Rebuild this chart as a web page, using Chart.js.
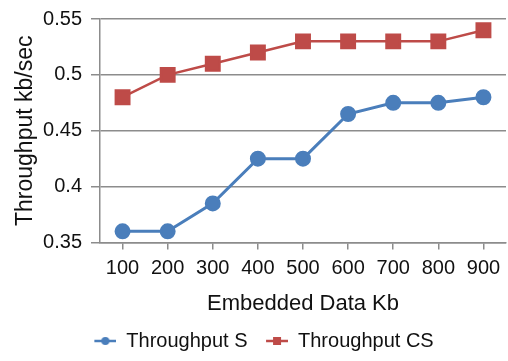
<!DOCTYPE html>
<html>
<head>
<meta charset="utf-8">
<script src="https://cdn.jsdelivr.net/npm/chart.js@4/dist/chart.umd.min.js"></script>
<style>
  html, body { margin: 0; padding: 0; background: #fff; overflow: hidden; }
  #wrap { width: 518px; height: 361px; }
</style>
</head>
<body>
<div id="wrap"><canvas id="throughputChart" width="518" height="361"></canvas></div>
<script>
const embeddedKb = ['100', '200', '300', '400', '500', '600', '700', '800', '900'];
const throughputS = [0.36, 0.36, 0.385, 0.425, 0.425, 0.465, 0.475, 0.475, 0.48];
const throughputCS = [0.48, 0.50, 0.51, 0.52, 0.53, 0.53, 0.53, 0.53, 0.54];
const yTicks = [0.35, 0.4, 0.45, 0.5, 0.55];

const blue = '#4A7EBB';
const red = '#BE4B48';
const gray = '#8C8C8C';
const font = "'Liberation Sans', Arial, sans-serif";

// little line + marker swatch for the legend (blank room on the left = gap between items)
function legendSwatch(color, shape) {
    const c = document.createElement('canvas');
    c.width = 34;
    c.height = 10;
    const ctx = c.getContext('2d');
    ctx.strokeStyle = color;
    ctx.lineWidth = 2.5;
    ctx.beginPath();
    ctx.moveTo(12, 5);
    ctx.lineTo(34, 5);
    ctx.stroke();
    ctx.fillStyle = color;
    if (shape === 'circle') {
        ctx.beginPath();
        ctx.arc(23, 5, 4, 0, Math.PI * 2);
        ctx.fill();
    } else {
        ctx.fillRect(19, 1, 8, 8);
    }
    return c;
}

const legendShift = {
    id: 'legendShift',
    afterLayout(chart) {
        chart.legend.left -= 1;
        chart.legend.right -= 1;
    },
};

const chartElem = document.getElementById('throughputChart').getContext('2d');

const chartData = {
    labels: embeddedKb,
    datasets: [{
        label: 'Throughput S',
        data: throughputS,
        borderColor: blue,
        backgroundColor: blue,
        borderWidth: 3,
        pointStyle: 'circle',
        pointRadius: 6.5,
        pointBackgroundColor: blue,
        pointBorderColor: blue,
        tension: 0,
    }, {
        label: 'Throughput CS',
        data: throughputCS,
        borderColor: red,
        backgroundColor: red,
        borderWidth: 2.5,
        pointStyle: 'rect',
        pointRadius: 9.5,
        pointBackgroundColor: red,
        pointBorderColor: red,
        tension: 0,
    }],
};

const chartConfig = {
    type: 'line',
    data: chartData,
    plugins: [legendShift],
    options: {
        responsive: false,
        animation: false,
        layout: { padding: { top: 2, right: 0, left: 0, bottom: 0 } },
        scales: {
            x: {
                offset: true,
                grid: {
                    drawOnChartArea: false,
                    color: gray,
                    lineWidth: 1.5,
                    tickLength: 7,
                },
                border: { color: gray, width: 1.5 },
                ticks: {
                    color: '#111',
                    font: { family: font, size: 20 },
                    padding: 7,
                    maxRotation: 0,
                },
                title: {
                    display: true,
                    text: 'Embedded Data Kb',
                    color: '#111',
                    font: { family: font, size: 22 },
                    padding: { top: 6, bottom: 7 },
                },
                afterFit: (scale) => { scale.height = 82; },
            },
            y: {
                min: 0.35,
                max: 0.55,
                afterBuildTicks: (scale) => { scale.ticks = yTicks.map(v => ({ value: v })); },
                grid: {
                    color: gray,
                    lineWidth: 1.5,
                    tickLength: 9,
                },
                border: { color: gray, width: 1.5 },
                ticks: {
                    color: '#111',
                    font: { family: font, size: 20, lineHeight: 1.0 },
                    padding: 9,
                    callback: (v) => String(Number(v.toFixed(2))),
                },
                title: {
                    display: true,
                    text: 'Throughput kb/sec',
                    color: '#111',
                    font: { family: font, size: 23 },
                    padding: { top: 12, bottom: 4 },
                },
                afterFit: (scale) => { scale.width = 100; },
            },
        },
        plugins: {
            legend: {
                position: 'bottom',
                labels: {
                    color: '#111',
                    font: { family: font, size: 20 },
                    usePointStyle: true,
                    pointStyleWidth: 34,
                    padding: 6.5,
                    generateLabels: (chart) => chart.data.datasets.map((ds, i) => ({
                        text: ds.label,
                        datasetIndex: i,
                        fontColor: '#111',
                        pointStyle: legendSwatch(ds.borderColor, ds.pointStyle),
                        lineWidth: 0,
                        hidden: false,
                    })),
                },
            },
            tooltip: { enabled: false },
        },
    },
};

const throughputChart = new Chart(chartElem, chartConfig);
</script>
</body>
</html>
